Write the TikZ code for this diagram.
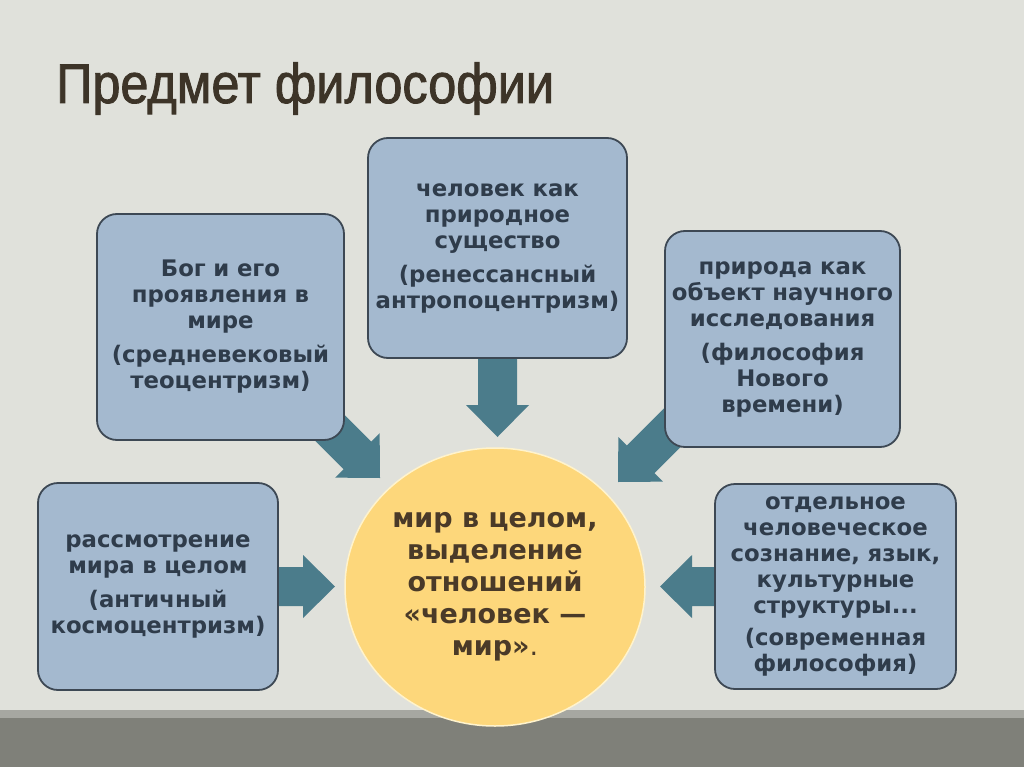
\documentclass[tikz,border=0pt]{standalone}
\usepackage{fontspec}
\setmainfont{DejaVu Sans}
\newfontfamily\titlefont[FakeStretch=0.9,FakeBold=1.6]{Liberation Sans}
\usetikzlibrary{calc,shapes.geometric}
\definecolor{bgc}{HTML}{E0E1DB}
\definecolor{barlight}{HTML}{A6A7A1}
\definecolor{bardark}{HTML}{7F8079}
\definecolor{boxfill}{HTML}{A4B9CF}
\definecolor{boxline}{HTML}{3D4854}
\definecolor{boxtext}{HTML}{2F3C4B}
\definecolor{arrowc}{HTML}{4B7C8B}
\definecolor{circfill}{HTML}{FDD77B}
\definecolor{circline}{HTML}{FFF3CC}
\definecolor{circtext}{HTML}{4A3A28}
\definecolor{titlec}{HTML}{3D3428}
\newcommand\fatarrow[2]{%
  \path ($(#2)!32pt!(#1)$) coordinate (hb);
  \fill[arrowc] ($(#1)!19.5pt!90:(#2)$) -- ($(hb)!19.5pt!-90:(#1)$) -- ($(hb)!31.5pt!-90:(#1)$) -- (#2) -- ($(hb)!31.5pt!90:(#1)$) -- ($(hb)!19.5pt!90:(#1)$) -- ($(#1)!19.5pt!-90:(#2)$) -- cycle;}
\tikzset{
  infobox/.style={draw=boxline, line width=1.8pt, fill=boxfill, rounded corners=20pt,
    text=boxtext, align=center, inner sep=0pt,
    font=\bfseries\fontsize{22.8}{26}\selectfont},
  centrenode/.style={ellipse, draw=circline, line width=1.5pt, fill=circfill,
    text=circtext, align=center, inner sep=0pt,
    font=\bfseries\fontsize{27}{32}\selectfont},
}
\begin{document}
\begin{tikzpicture}[x=1pt,y=-1pt]
\useasboundingbox (0,0) rectangle (1024,767);
\fill[bgc] (0,0) rectangle (1024,767);
\fill[barlight] (0,710) rectangle (1024,718);
\fill[bardark] (0,718) rectangle (1024,767);
% title
\node[anchor=base west, inner sep=0pt, text=titlec, font=\titlefont\fontsize{56}{60}\selectfont] (title) at (56,103) {Предмет философии};
% arrows (tails hidden under the boxes)
\coordinate (t1) at (315,413); \coordinate (p1) at (380,478);
\coordinate (t2) at (497.5,350); \coordinate (p2) at (497.5,437);
\coordinate (t3) at (680,420); \coordinate (p3) at (618,482);
\coordinate (t4) at (270,586.5); \coordinate (p4) at (335,586.5);
\coordinate (t5) at (725,586.5); \coordinate (p5) at (660,586.5);
\fatarrow{t1}{p1}
\fatarrow{t2}{p2}
\fatarrow{t3}{p3}
\fatarrow{t4}{p4}
\fatarrow{t5}{p5}
% boxes
\node[infobox, minimum width=247pt, minimum height=226pt, text width=240pt] (b1) at (220.5,327)
  {Бог и его\\проявления в\\мире\\[8pt](средневековый\\теоцентризм)};
\node[infobox, minimum width=259pt, minimum height=220pt, text width=252pt] (b2) at (497.5,248)
  {человек как\\природное\\существо\\[8pt](ренессансный\\антропоцентризм)};
\node[infobox, minimum width=235pt, minimum height=216pt, text width=228pt] (b3) at (782.5,339)
  {природа как\\объект научного\\исследования\\[8pt](философия\\Нового\\времени)};
\node[infobox, minimum width=240pt, minimum height=207pt, text width=233pt] (b4) at (158,586.5)
  {рассмотрение\\мира в целом\\[8pt](античный\\космоцентризм)};
\node[infobox, minimum width=241pt, minimum height=205pt, text width=234pt] (b5) at (835.5,586.5)
  {отдельное\\человеческое\\сознание, язык,\\культурные\\структуры...\\[6pt](современная\\философия)};
% centre
\node[centrenode, minimum width=300pt, minimum height=278pt] (c) at (495,587)
  {мир в целом,\\выделение\\отношений\\«человек —\\мир»{\mdseries .}};
\end{tikzpicture}
\end{document}
